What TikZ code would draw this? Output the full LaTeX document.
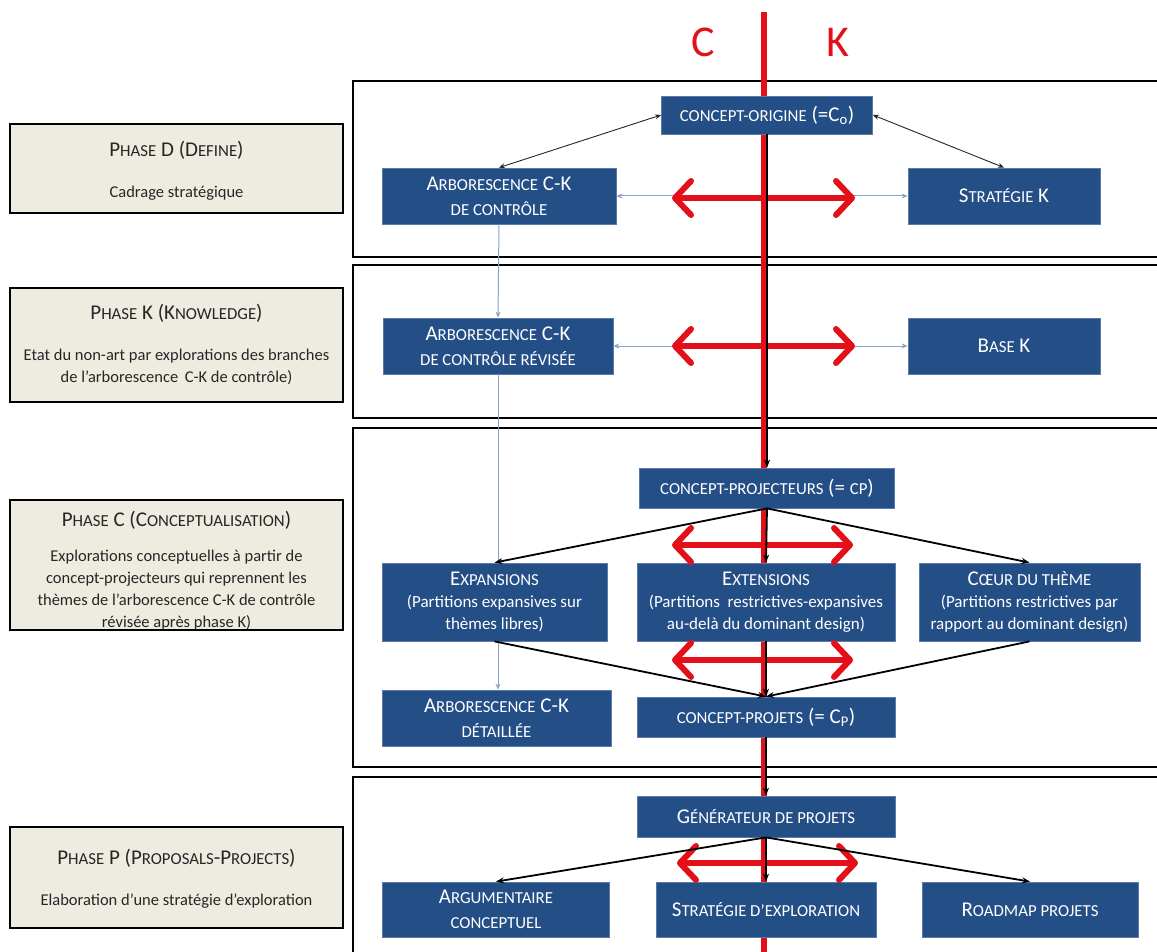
\documentclass[tikz,border=0pt]{standalone}
\usepackage{fontspec}
\setmainfont{Carlito}
\usetikzlibrary{arrows.meta}
\definecolor{boxblue}{HTML}{244E86}
\definecolor{boxedge}{HTML}{5A7BAA}
\definecolor{ckred}{HTML}{E3101A}
\definecolor{phasefill}{HTML}{EEEBE1}
\definecolor{lightline}{HTML}{8AA2C8}
\makeatletter
\newcommand\fsc[1]{{\fontsize{\dimexpr\f@size pt*4/5\relax}{0pt}\selectfont #1}}
\makeatother
\newcommand\subt[1]{{\fontsize{17}{21}\selectfont #1}}
\tikzset{
  bbox/.style={fill=boxblue, draw=boxedge, line width=0.8, text=white, align=center, inner sep=0pt,
    font=\fontsize{21}{25}\selectfont},
  bbox3/.style={bbox, font=\fontsize{21}{22}\selectfont},
  phasebox/.style={fill=phasefill, draw=black, line width=1.6, minimum width=333},
  phasetitle/.style={text=black!85, inner sep=0pt, font=\fontsize{21}{24}\selectfont},
  phasebody/.style={text=black!85, inner sep=0pt, align=center, font=\fontsize{16.5}{22}\selectfont},
  frame/.style={draw=black, line width=1.6},
  redline/.style={draw=ckred, line width=6},
  redarrow/.style={draw=ckred, line width=6,
    {Straight Barb[length=16pt,width=34pt,round]}-{Straight Barb[length=16pt,width=34pt,round]}},
  thinarrow/.style={draw=black!85, line width=0.9, {Stealth[length=6pt,width=5pt]}-{Stealth[length=6pt,width=5pt]}},
  blk/.style={draw=black, line width=1.8, -{Stealth[length=8pt,width=6pt]}},
  blue2/.style={draw=lightline, line width=1, {Stealth[length=6pt,width=5pt]}-{Stealth[length=6pt,width=5pt]}},
  blue1/.style={draw=lightline, line width=1, -{Stealth[length=6pt,width=5pt]}},
  bluen/.style={draw=lightline, line width=1},
  cklabel/.style={text=ckred, font=\fontsize{44}{44}\selectfont, inner sep=0pt}
}
\begin{document}
\begin{tikzpicture}[x=1pt,y=-1pt]
\useasboundingbox (0,0) rectangle (1157,952);
\fill[white] (0,0) rectangle (1157,952);
% frames
\draw[frame] (353,81) rectangle (1162,257);
\draw[frame] (353,265) rectangle (1162,418);
\draw[frame] (353,428) rectangle (1162,767);
\draw[frame] (353,777) rectangle (1162,960);
% C / K axis
\coordinate (axtop) at (764,12);
\coordinate (axbot) at (764,952);
\draw[redline] (axtop) -- (axbot);
\node[cklabel] (C) at (703,42) {C};
\node[cklabel] (K) at (838,42) {K};
% phase boxes
\node[phasebox, minimum height=89] (pD) at (176.5,168.5) {};
\node[phasetitle] (pDt) at (176.5,150) {P\fsc{HASE} D (D\fsc{EFINE})};
\node[phasebody] (pDb) at (176.5,193) {Cadrage stratégique};
\node[phasebox, minimum height=114] (pK) at (176.5,345) {};
\node[phasetitle] (pKt) at (176.5,313) {P\fsc{HASE} K (K\fsc{NOWLEDGE})};
\node[phasebody] (pKb) at (176.5,367) {Etat du non-art par explorations des branches\\ de l’arborescence\, C-K de contrôle)};
\node[phasebox, minimum height=130] (pC) at (176.5,565) {};
\node[phasetitle] (pCt) at (176.5,520) {P\fsc{HASE} C (C\fsc{ONCEPTUALISATION})};
\node[phasebody] (pCb) at (176.5,590) {Explorations conceptuelles à partir de\\ concept-projecteurs qui reprennent les\\ thèmes de l’arborescence C-K de contrôle\\ révisée après phase K)};
\node[phasebox, minimum height=101] (pP) at (176.5,877.5) {};
\node[phasetitle] (pPt) at (176.5,858) {P\fsc{HASE} P (P\fsc{ROPOSALS}-P\fsc{ROJECTS})};
\node[phasebody] (pPb) at (176.5,901) {Elaboration d’une stratégie d’exploration};
% blue boxes
\node[bbox, minimum width=211, minimum height=38] (co) at (767,115)
  {\fsc{CONCEPT-ORIGINE} (=C\textsubscript{o})};
\node[bbox, minimum width=234, minimum height=56] (arb1) at (499,196)
  {A\fsc{RBORESCENCE} C-K\\ \fsc{DE CONTRÔLE}};
\node[bbox, minimum width=192, minimum height=56] (sK) at (1004,196)
  {S\fsc{TRATÉGIE} K};
\node[bbox, minimum width=230, minimum height=56] (arb2) at (498,346)
  {A\fsc{RBORESCENCE} C-K\\ \fsc{DE CONTRÔLE RÉVISÉE}};
\node[bbox, minimum width=192, minimum height=56] (bK) at (1004,346)
  {B\fsc{ASE} K};
\node[bbox, minimum width=255, minimum height=40] (cp) at (767,488)
  {\fsc{CONCEPT-PROJECTEURS} (= \fsc{CP})};
\node[bbox3, minimum width=225, minimum height=78] (exp) at (494.5,602)
  {E\fsc{XPANSIONS}\\ \subt{(Partitions expansives sur}\\ \subt{thèmes libres)}};
\node[bbox3, minimum width=258, minimum height=78] (ext) at (766,602)
  {E\fsc{XTENSIONS}\\ \subt{(Partitions\ \ restrictives-expansives}\\ \subt{au-delà du dominant design)}};
\node[bbox3, minimum width=221, minimum height=78] (coeur) at (1029.5,602)
  {C\fsc{ŒUR DU THÈME}\\ \subt{(Partitions restrictives par}\\ \subt{rapport au dominant design)}};
\node[bbox, minimum width=229, minimum height=56] (det) at (496.5,718)
  {A\fsc{RBORESCENCE} C-K\\ \fsc{DÉTAILLÉE}};
\node[bbox, minimum width=258, minimum height=40] (cpj) at (766,717)
  {\fsc{CONCEPT-PROJETS} (= C\textsubscript{P})};
\node[bbox, minimum width=258, minimum height=41] (gen) at (766,816.5)
  {G\fsc{ÉNÉRATEUR DE PROJETS}};
\node[bbox, minimum width=227, minimum height=55] (arg) at (496,909.5)
  {A\fsc{RGUMENTAIRE}\\ \fsc{CONCEPTUEL}};
\node[bbox, minimum width=220, minimum height=55] (sE) at (766,909.5)
  {S\fsc{TRATÉGIE D’EXPLORATION}};
\node[bbox, minimum width=216, minimum height=55] (road) at (1030,909.5)
  {R\fsc{OADMAP PROJETS}};
% light blue connectors
\draw[blue2] (arb1.east) -- (sK.west);
\draw[blue2] (arb2.east) -- (bK.west);
\draw[blue1] (arb1.south) -- (arb2.north);
\draw[bluen] (arb2.south) -- (arb2.south |- exp.north);
\draw[blue1] (exp.south -| arb2.south) -- (det.north -| arb2.south);
% red double arrows
\coordinate (r1a) at (672,198); \coordinate (r1b) at (855,198);
\coordinate (r2a) at (672,346); \coordinate (r2b) at (855,346);
\coordinate (r3a) at (672,545); \coordinate (r3b) at (853,545);
\coordinate (r4a) at (672,660); \coordinate (r4b) at (853,660);
\coordinate (r5a) at (677,863); \coordinate (r5b) at (858,863);
\draw[redarrow] (r1a) -- (r1b);
\draw[redarrow] (r2a) -- (r2b);
\draw[redarrow] (r3a) -- (r3b);
\draw[redarrow] (r4a) -- (r4b);
\draw[redarrow] (r5a) -- (r5b);
% thin black connectors
\draw[thinarrow] (co.west) -- (arb1.north);
\draw[thinarrow] (co.east) -- (sK.north);
% black connectors
\draw[blk] (co.south) -- (cp.north);
\draw[blk] (cp.south) -- (exp.north);
\draw[blk] (cp.south) -- (ext.north);
\draw[blk] (cp.south) -- (coeur.north);
\draw[blk] (exp.south) -- (cpj.north);
\draw[blk] (ext.south) -- (cpj.north);
\draw[blk] (coeur.south) -- (cpj.north);
\draw[blk] (cpj.south) -- (gen.north);
\draw[blk] (gen.south) -- (arg.north);
\draw[blk] (gen.south) -- (sE.north);
\draw[blk] (gen.south) -- (road.north);
\end{tikzpicture}
\end{document}
